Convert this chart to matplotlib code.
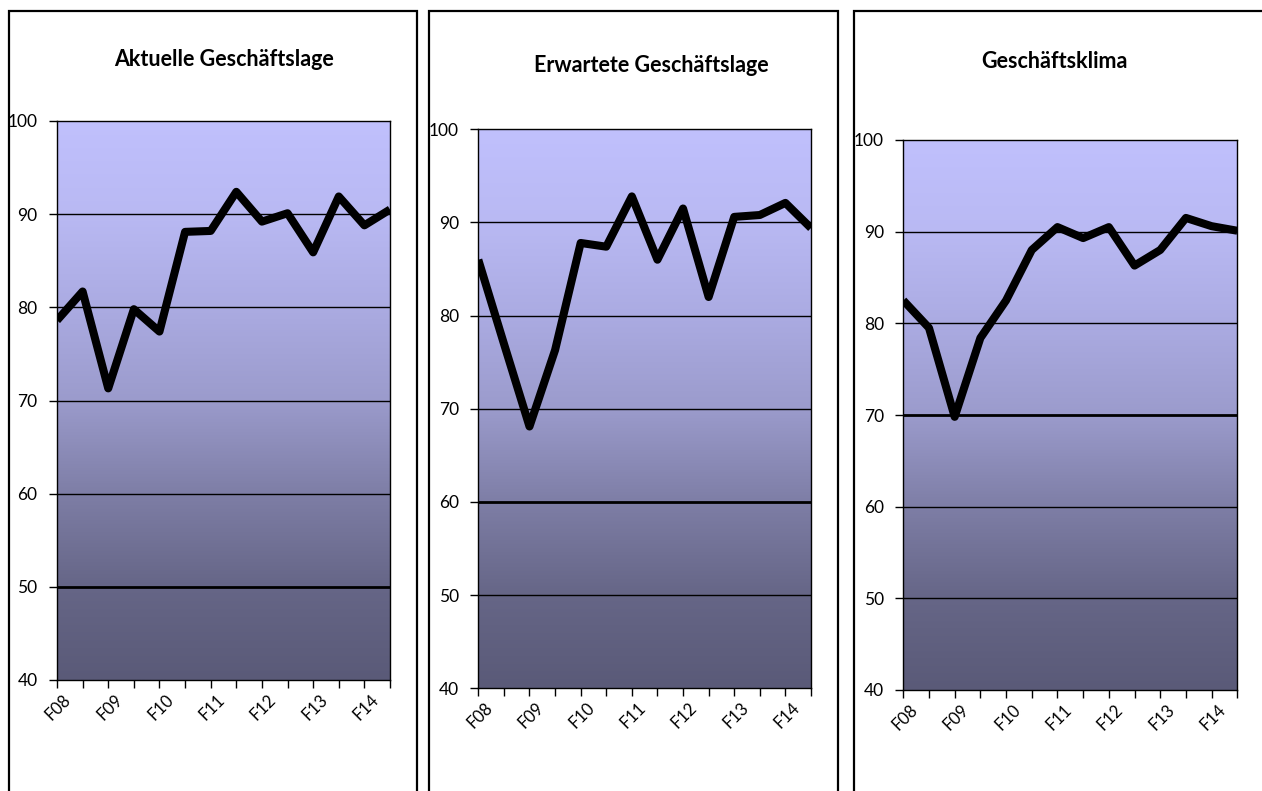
"""Three-panel business survey chart: current situation, expectations, climate."""

import numpy as np
import matplotlib
matplotlib.use("Agg")
import matplotlib.pyplot as plt
import matplotlib.transforms as mtransforms
from matplotlib.colors import LinearSegmentedColormap
from matplotlib.patches import Rectangle

plt.rcParams["font.family"] = ["Lato", "DejaVu Sans"]

# half-year survey waves, spring/autumn 2008 .. 2014
periods = ["F08", "H08", "F09", "H09", "F10", "H10", "F11",
           "H11", "F12", "H12", "F13", "H13", "F14", "H14"]
year_labels = ["F08", "F09", "F10", "F11", "F12", "F13", "F14"]

aktuelle_lage = [78.6, 81.7, 71.3, 79.8, 77.4, 88.1, 88.2,
                 92.4, 89.2, 90.1, 85.9, 91.9, 88.8, 90.5]
erwartete_lage = [86.0, 77.0, 68.1, 76.3, 87.8, 87.4, 92.8,
                  86.0, 91.5, 82.0, 90.6, 90.8, 92.1, 89.4]
klima = [82.5, 79.5, 69.8, 78.4, 82.5, 88.0, 90.5,
         89.3, 90.5, 86.3, 88.0, 91.5, 90.6, 90.1]

titles = ["Aktuelle Geschäftslage", "Erwartete Geschäftslage", "Geschäftsklima"]
series = [aktuelle_lage, erwartete_lage, klima]
heavy_grid = [50, 60, 70]   # gridline that renders bolder in each panel

W, H = 1262, 791

# plot areas in pixels: left, right, top, bottom
areas = [(57, 390, 121, 680), (478.3, 811, 129.3, 688.3), (903.3, 1237.3, 140, 690)]
frames = [(9, 416.7), (429.3, 837.7), (854.3, 1266)]
title_pos = [(224, 59), (651, 66), (1054, 61)]

bg_cmap = LinearSegmentedColormap.from_list("survey_bg", [
    (0.0, "#5a5a78"), (0.167, "#666687"), (0.333, "#7e7ea6"),
    (0.5, "#9b9bcc"), (0.667, "#ababe2"), (0.833, "#b9b9f3"),
    (1.0, "#c0c0fd")])


def draw_panel(fig, i):
    l, r, t, b = areas[i]
    ax = fig.add_axes([l / W, (H - b) / H, (r - l) / W, (b - t) / H])
    n = len(periods)
    x = np.arange(n)

    grad = np.linspace(0, 1, 256).reshape(-1, 1)
    ax.imshow(grad, cmap=bg_cmap, origin="lower", aspect="auto",
              extent=[0, n - 1, 40, 100], zorder=0)

    for v in range(50, 100, 10):
        lw = 2.0 if v == heavy_grid[i] else 1.0
        ax.axhline(v, color="black", lw=lw, zorder=1)

    ax.plot(x, series[i], color="black", lw=5.8, solid_joinstyle="round",
            solid_capstyle="butt", zorder=3)

    ax.set_xlim(0, n - 1)
    ax.set_ylim(40, 100)
    ax.set_yticks(range(40, 101, 10))
    ax.set_xticks(x)
    labels = [year_labels[k // 2] if k % 2 == 0 else "" for k in range(n)]
    ax.set_xticklabels(labels, rotation=45, ha="right", va="top",
                       rotation_mode="anchor", fontsize=12)
    ax.tick_params(axis="y", direction="out", length=6, width=1,
                   labelsize=12.5, pad=8)
    ax.tick_params(axis="x", direction="out", length=6, width=1, pad=2)
    # nudge the slanted labels so their ends sit just right of the tick
    shift = mtransforms.ScaledTranslation(6 / 100, 0, fig.dpi_scale_trans)
    for lab in ax.get_xticklabels():
        lab.set_transform(lab.get_transform() + shift)
    for s in ax.spines.values():
        s.set_color("black")
        s.set_linewidth(1.0)

    x0, x1 = frames[i]
    fig.patches.append(Rectangle((x0 / W, -0.05), (x1 - x0) / W, 1.05 - 11 / H,
                                 transform=fig.transFigure, fill=False,
                                 edgecolor="black", lw=1.6, zorder=5))
    tx, ty = title_pos[i]
    fig.text(tx / W, 1 - ty / H, titles[i], ha="center", va="center",
             fontsize=15.5, fontweight="bold")


fig = plt.figure(figsize=(W / 100, H / 100), dpi=100)
for i in range(3):
    draw_panel(fig, i)

fig.savefig("out.png", dpi=100)
